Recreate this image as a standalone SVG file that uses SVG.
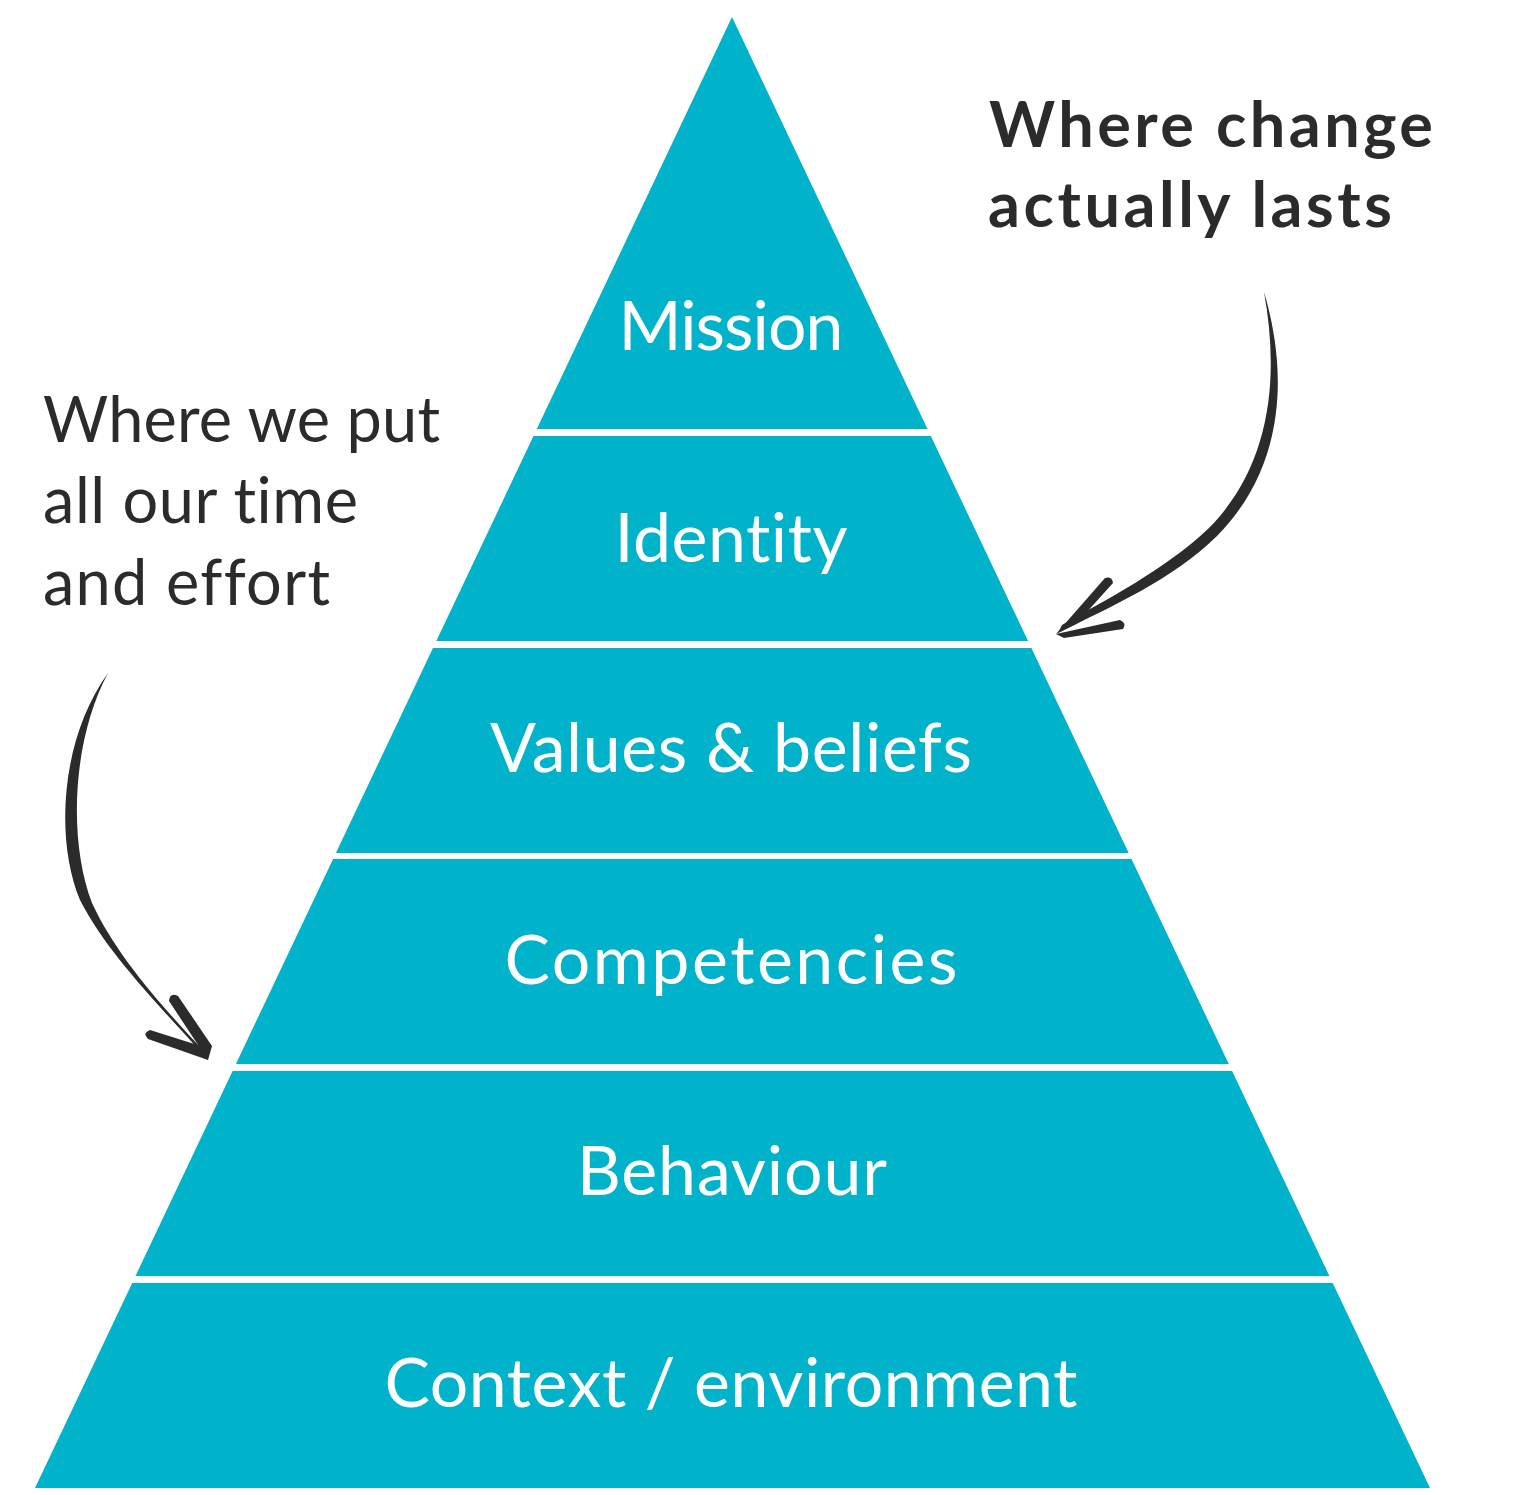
<svg xmlns="http://www.w3.org/2000/svg" width="1525" height="1495" viewBox="0 0 1525 1495">
<style>
.band{fill:#00B3CA}
.lbl{font-family:Lato,"Open Sans","Liberation Sans",sans-serif;font-size:68px;fill:#ffffff;text-anchor:middle;font-weight:400;font-variant-ligatures:none}
.note{font-family:Lato,"Open Sans","Liberation Sans",sans-serif;font-size:63px;fill:#2b2b2b;font-variant-ligatures:none}
.bold{font-weight:700}
.arrow{fill:#2b2b2b}
</style>
<rect width="1525" height="1495" fill="#ffffff"/>
<g id="mission"><polygon class="band" points="732,17 927.5,429 536.8,429"/><text class="lbl" x="731" y="350" textLength="225" lengthAdjust="spacing">Mission</text></g>
<g id="identity"><polygon class="band" points="533.5,436 930.8,436 1028.1,641 436.3,641"/><text class="lbl" x="731" y="562" textLength="233" lengthAdjust="spacing">Identity</text></g>
<g id="values"><polygon class="band" points="433,648 1031.4,648 1128.7,853 335.9,853"/><text class="lbl" x="731" y="772" textLength="482" lengthAdjust="spacing">Values &amp; beliefs</text></g>
<g id="competencies"><polygon class="band" points="333.1,859 1131.5,859 1228.8,1064 235.9,1064"/><text class="lbl" x="731" y="984" textLength="453" lengthAdjust="spacing">Competencies</text></g>
<g id="behaviour"><polygon class="band" points="232.6,1071 1232.1,1071 1329.4,1276 135.5,1276"/><text class="lbl" x="732" y="1195" textLength="310" lengthAdjust="spacing">Behaviour</text></g>
<g id="context"><polygon class="band" points="132.2,1283 1332.7,1283 1430,1488 35,1488"/><text class="lbl" x="731" y="1407" textLength="693" lengthAdjust="spacing">Context / environment</text></g>
<g id="note-left"><text class="note" x="43" y="442" textLength="397" lengthAdjust="spacing">Where we put</text><text class="note" x="43" y="523" textLength="315" lengthAdjust="spacing">all our time</text><text class="note" x="43" y="605" textLength="287" lengthAdjust="spacing">and effort</text></g>
<g id="note-right"><text class="note bold" x="989" y="147" textLength="444" lengthAdjust="spacing">Where change</text><text class="note bold" x="988" y="227" textLength="404" lengthAdjust="spacing">actually lasts</text></g>
<g id="connectors">
<path class="arrow" d="M1264,292 C1290,380 1282,470 1217,536 C1172,580 1112,606 1058,633 L1062,625 C1105,600 1165,570 1209,528 C1270,466 1280,380 1264,292 Z"/>
<path class="arrow" d="M1056,634 L1105,578 Q1112,576 1113,583 L1076,624 Z"/>
<path class="arrow" d="M1056,634 L1120,620 Q1127,623 1123,629 L1064,638 Z"/>
<path class="arrow" d="M108,673 C60,740 55,840 80,900 C108,955 162,1008 208,1060 L200,1047 C160,1004 116,955 92,903 C68,840 72,740 108,673 Z"/>
<path class="arrow" d="M208,1060 L169,1001 Q170,992 178,996 L212,1046 Z"/>
<path class="arrow" d="M208,1060 L148,1039 Q142,1033 150,1030 L207,1048 Z"/>
</g>
</svg>
